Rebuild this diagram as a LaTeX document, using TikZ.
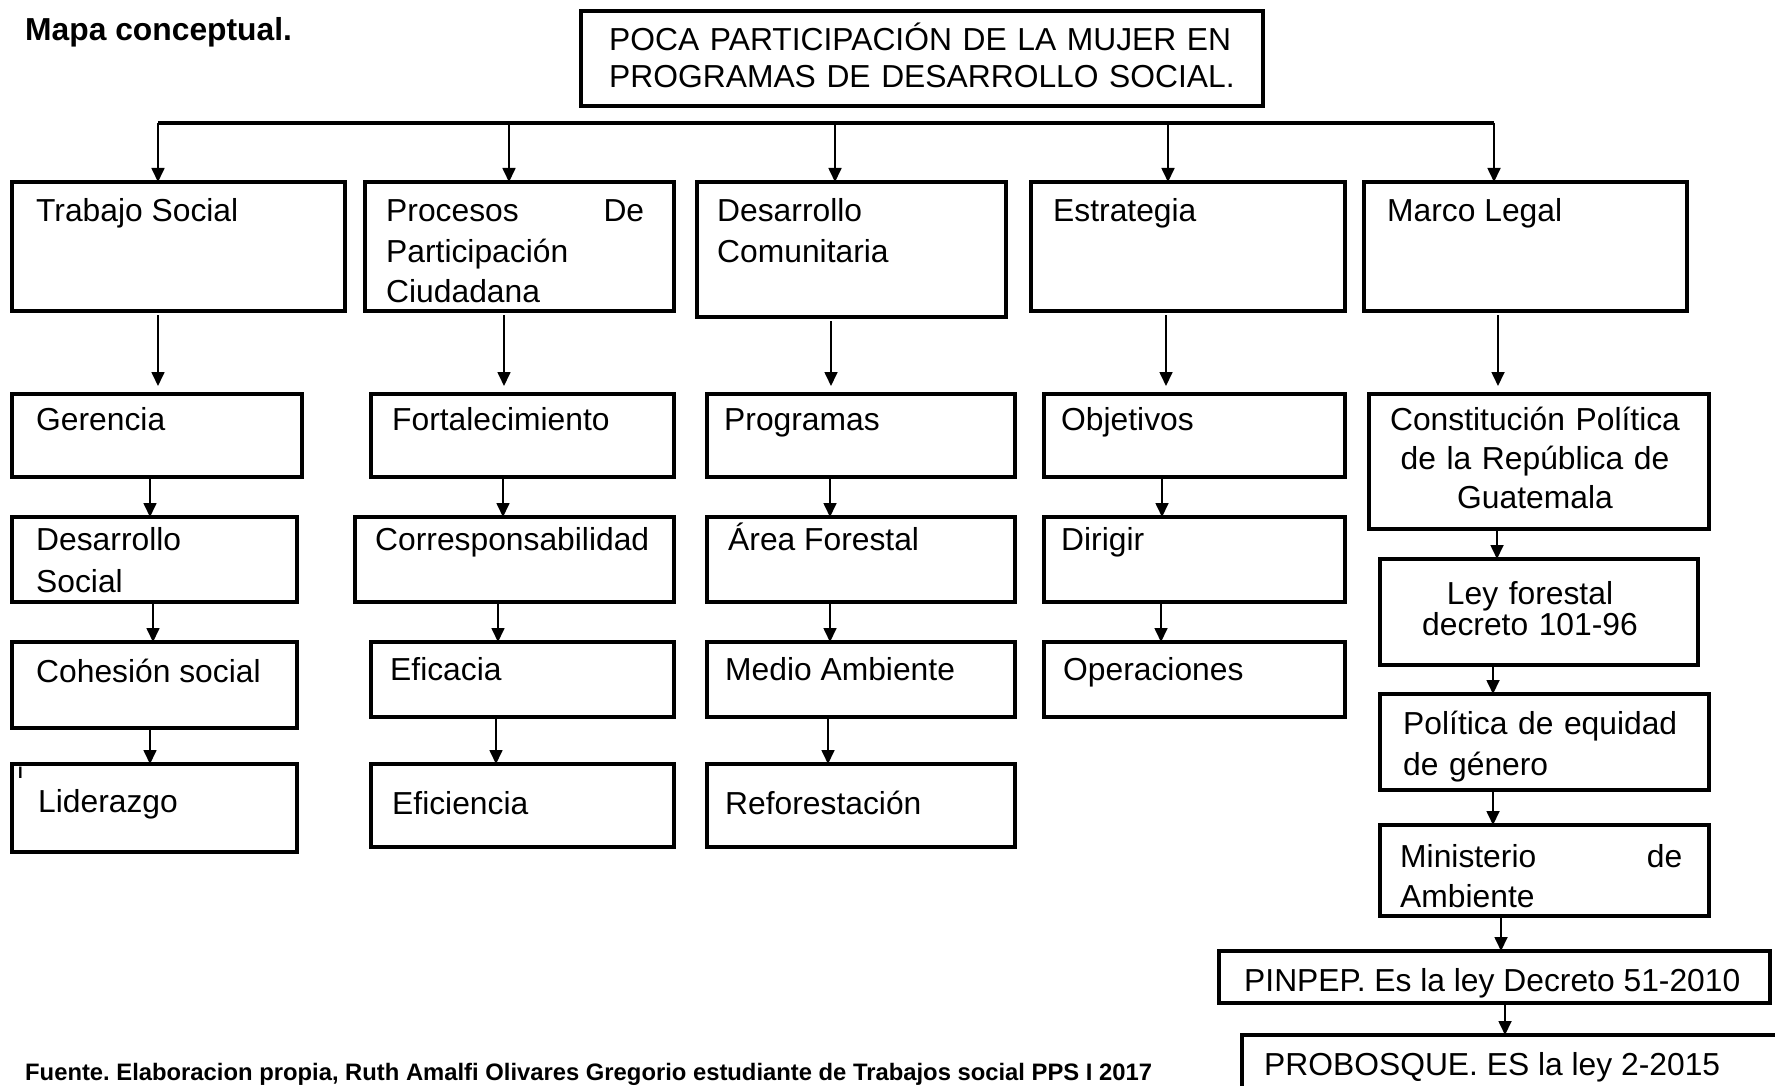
\documentclass[tikz,border=0pt]{standalone}
\usepackage{fontspec}
\setmainfont{Liberation Sans}
\usetikzlibrary{positioning, arrows.meta}

\newcommand{\mapfont}{\fontsize{31.8}{40.5}\selectfont}
\frenchspacing

\begin{document}
\begin{tikzpicture}[x=1pt, y=-1pt, >={Triangle[length=14pt, width=13pt]},
    concept/.style={draw, line width=3.1pt, anchor=north west, inner sep=0pt, outer sep=0pt},
    txt/.style={anchor=base west, inner sep=0pt, align=left, font=\mapfont},
    link/.style={->, line width=1.7pt},
    busline/.style={line width=3.2pt}]
  \useasboundingbox (0,0) rectangle (1775,1086);

  \node[anchor=base west, inner sep=0pt, font=\bfseries\mapfont] (head) at (25,41) {Mapa conceptual.};

  % problema central
  \node[concept, minimum width=682pt, minimum height=95pt] (tit) at (581,11) {};
  \node[txt, text width=650pt, font=\fontsize{31.8}{37}\selectfont] (tit-t) at ([shift={(28,40)}]tit.north west)
    {POCA PARTICIPACIÓN DE LA MUJER EN\\PROGRAMAS DE DESARROLLO SOCIAL.};

  % primer nivel
  \node[concept, minimum width=333pt, minimum height=129pt] (ts) at (12,182) {};
  \node[txt] (ts-t) at ([shift={(24,40)}]ts.north west) {Trabajo Social};
  \node[concept, minimum width=309pt, minimum height=129pt] (pc) at (365,182) {};
  \node[txt, text width=258pt] (pc-t) at ([shift={(21,40)}]pc.north west)
    {Procesos\hfill De\\Participación\\Ciudadana};
  \node[concept, minimum width=309pt, minimum height=135pt] (dc) at (697,182) {};
  \node[txt, text width=270pt] (dc-t) at ([shift={(20,40)}]dc.north west) {Desarrollo\\Comunitaria};
  \node[concept, minimum width=314pt, minimum height=129pt] (es) at (1031,182) {};
  \node[txt] (es-t) at ([shift={(22,40)}]es.north west) {Estrategia};
  \node[concept, minimum width=323pt, minimum height=129pt] (ml) at (1364,182) {};
  \node[txt] (ml-t) at ([shift={(23,40)}]ml.north west) {Marco Legal};

  % Trabajo Social
  \node[concept, minimum width=290pt, minimum height=83pt] (ger) at (12,394) {};
  \node[txt] (ger-t) at ([shift={(24,36)}]ger.north west) {Gerencia};
  \node[concept, minimum width=285pt, minimum height=85pt] (dsoc) at (12,517) {};
  \node[txt, text width=250pt, font=\fontsize{31.8}{42}\selectfont] (dsoc-t) at ([shift={(24,33)}]dsoc.north west) {Desarrollo\\Social};
  \node[concept, minimum width=285pt, minimum height=86pt] (coh) at (12,642) {};
  \node[txt] (coh-t) at ([shift={(24,40)}]coh.north west) {Cohesión social};
  \node[concept, minimum width=285pt, minimum height=88pt] (lid) at (12,764) {};
  \node[txt] (lid-t) at ([shift={(26,48)}]lid.north west) {Liderazgo};
  \node[anchor=base west, inner sep=0pt, font=\bfseries\fontsize{16.5}{18}\selectfont] (cur) at (18,778) {I};

  % Procesos de participacion
  \node[concept, minimum width=303pt, minimum height=83pt] (fort) at (371,394) {};
  \node[txt] (fort-t) at ([shift={(21,36)}]fort.north west) {Fortalecimiento};
  \node[concept, minimum width=319pt, minimum height=85pt] (corr) at (355,517) {};
  \node[txt] (corr-t) at ([shift={(20,33)}]corr.north west) {Corresponsabilidad};
  \node[concept, minimum width=303pt, minimum height=75pt] (efc) at (371,642) {};
  \node[txt] (efc-t) at ([shift={(19,38)}]efc.north west) {Eficacia};
  \node[concept, minimum width=303pt, minimum height=83pt] (efi) at (371,764) {};
  \node[txt] (efi-t) at ([shift={(21,50)}]efi.north west) {Eficiencia};

  % Desarrollo comunitario
  \node[concept, minimum width=308pt, minimum height=83pt] (prog) at (707,394) {};
  \node[txt] (prog-t) at ([shift={(17,36)}]prog.north west) {Programas};
  \node[concept, minimum width=308pt, minimum height=85pt] (area) at (707,517) {};
  \node[txt] (area-t) at ([shift={(21,33)}]area.north west) {Área Forestal};
  \node[concept, minimum width=308pt, minimum height=75pt] (med) at (707,642) {};
  \node[txt] (med-t) at ([shift={(18,38)}]med.north west) {Medio Ambiente};
  \node[concept, minimum width=308pt, minimum height=83pt] (ref) at (707,764) {};
  \node[txt] (ref-t) at ([shift={(18,50)}]ref.north west) {Reforestación};

  % Estrategia
  \node[concept, minimum width=301pt, minimum height=83pt] (obj) at (1044,394) {};
  \node[txt] (obj-t) at ([shift={(17,36)}]obj.north west) {Objetivos};
  \node[concept, minimum width=301pt, minimum height=85pt] (dir) at (1044,517) {};
  \node[txt] (dir-t) at ([shift={(17,33)}]dir.north west) {Dirigir};
  \node[concept, minimum width=301pt, minimum height=75pt] (ope) at (1044,642) {};
  \node[txt] (ope-t) at ([shift={(19,38)}]ope.north west) {Operaciones};

  % Marco legal
  \node[concept, minimum width=340pt, minimum height=135pt] (con) at (1369,394) {};
  \node[txt, text width=330pt, align=center, anchor=base, font=\fontsize{31.8}{39}\selectfont] (con-t)
    at ([shift={(166,36)}]con.north west) {Constitución Política\\de la República de\\Guatemala};
  \node[concept, minimum width=318pt, minimum height=106pt] (ley) at (1380,559) {};
  \node[txt, text width=300pt, align=center, anchor=base, font=\fontsize{31.8}{31}\selectfont] (ley-t)
    at ([shift={(150,45)}]ley.north west) {Ley forestal\\decreto 101-96};
  \node[concept, minimum width=329pt, minimum height=96pt] (pol) at (1380,694) {};
  \node[txt, text width=300pt, font=\fontsize{31.8}{41}\selectfont] (pol-t) at ([shift={(23,40)}]pol.north west) {Política de equidad\\de género};
  \node[concept, minimum width=329pt, minimum height=91pt] (min) at (1380,825) {};
  \node[txt, text width=282pt] (min-t) at ([shift={(20,42)}]min.north west) {Ministerio\hfill de\\Ambiente};
  \node[concept, minimum width=551pt, minimum height=52pt] (pin) at (1219,951) {};
  \node[txt] (pin-t) at ([shift={(25,40)}]pin.north west) {PINPEP. Es la ley Decreto 51-2010};
  \node[concept, minimum width=600pt, minimum height=100pt] (pro) at (1242,1035) {};
  \node[txt] (pro-t) at ([shift={(22,40)}]pro.north west) {PROBOSQUE. ES la ley 2-2015};

  % barra y flechas
  \coordinate (bl) at (158,123);
  \coordinate (br) at (1494,123);
  \draw[busline] (bl) -- (br);
  \foreach \n/\x in {ts/158, pc/509, dc/835, es/1168, ml/1494} {
    \coordinate (k) at (\x,123);
    \draw[link] (k) -- (\n.north -| k);
  }
  \foreach \a/\b/\x in {ts/ger/158, pc/fort/504, dc/prog/831, es/obj/1166, ml/con/1498} {
    \coordinate (k) at (\x,0);
    \draw[link, shorten <=4pt, shorten >=8pt] (\a.south -| k) -- (\b.north -| k);
  }
  \foreach \a/\b/\x in {ger/dsoc/150, dsoc/coh/153, coh/lid/150, fort/corr/503, corr/efc/498,
      efc/efi/496, prog/area/830, area/med/830, med/ref/828, obj/dir/1162, dir/ope/1161,
      con/ley/1497, ley/pol/1493, pol/min/1493, min/pin/1501, pin/pro/1505} {
    \coordinate (k) at (\x,0);
    \draw[link] (\a.south -| k) -- (\b.north -| k);
  }

  \node[anchor=base west, inner sep=0pt, font=\bfseries\fontsize{23.8}{28}\selectfont] (src) at (25,1080)
    {Fuente. Elaboracion propia, Ruth Amalfi Olivares Gregorio estudiante de Trabajos social PPS I 2017};
\end{tikzpicture}
\end{document}
